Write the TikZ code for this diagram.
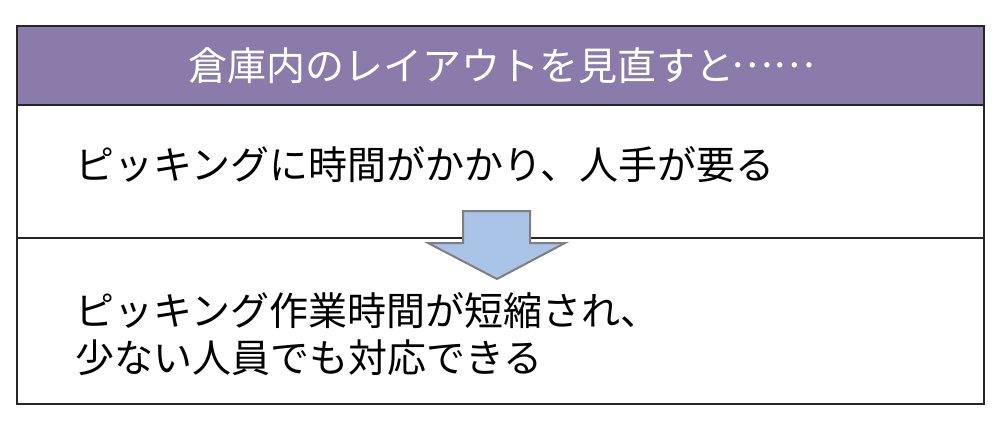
\documentclass[tikz,border=0pt]{standalone}
\usepackage{fontspec}
\newfontfamily\jp{Noto Sans CJK JP}
\definecolor{headpurple}{HTML}{8B7BAA}
\definecolor{arrowblue}{HTML}{A9C4E6}
\definecolor{arrowgray}{HTML}{7F7F7F}
\newcommand{\midellipsis}{\raisebox{0.33em}{\makebox[2em]{……}}}
\begin{document}
\begin{tikzpicture}[x=0.5pt, y=-0.5pt,
						txt/.style={font=\jp\fontsize{19.5pt}{23.5pt}\selectfont, inner sep=0pt},
						head/.style={txt, text=white},
						body/.style={txt, anchor=west, align=left},
						frame/.style={draw=black!85, line width=0.9pt},
						downarrow/.style={fill=arrowblue, draw=arrowgray, line width=1pt, line join=miter},
					]
					\useasboundingbox (0,0) rectangle (1000,423);
					\fill[headpurple] (17,26) rectangle (984,105);
					\draw[frame] (17,26) rectangle (984,404);
					\draw[frame] (17,105) -- (984,105);
					\draw[frame] (17,238) -- (984,238);
					%
					\node[head, anchor=base] (title) at (500,80) {倉庫内のレイアウトを見直すと\midellipsis};
					\node[body] (before) at (75,165) {ピッキングに時間がかかり、人手が要る};
					\node[body] (after) at (75,334) {ピッキング作業時間が短縮され、\\少ない人員でも対応できる};
					%
					\draw[downarrow] (463,211) -- (530,211) -- (530,243) -- (565,243)
					-- (497,279) -- (428,243) -- (463,243) -- cycle;
				\end{tikzpicture}
\end{document}
